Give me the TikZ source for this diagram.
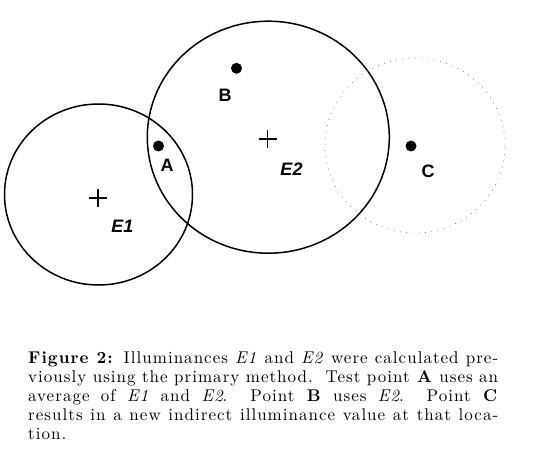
\documentclass[tikz,border=0pt]{standalone}
\usepackage{fontspec}
\newfontfamily\labelfont{Liberation Sans}
\newfontfamily\captionfont{lmroman10}[Extension=.otf, UprightFont=*-regular,
  BoldFont=*-bold, ItalicFont=*-italic, LetterSpace=6]
\usetikzlibrary{positioning}

\begin{document}
\begin{tikzpicture}[
  x=1pt, y=-1pt,
  region/.style={line width=1.5pt},
  newregion/.style={line width=0.8pt, black!50, dash pattern=on 0.8pt off 5.5pt},
  marker/.style={line width=1.1pt},
  testpt/.style={circle, fill=black, inner sep=0pt, minimum size=11pt},
  ptlabel/.style={font=\labelfont\fontsize{18}{20}\selectfont\bfseries},
  srclabel/.style={font=\labelfont\fontsize{18}{20}\selectfont\bfseries\itshape},
  caption/.style={text width=470pt, align=justify, inner sep=0pt,
    font=\captionfont\fontsize{17}{19}\selectfont}
]
\useasboundingbox (0,0) rectangle (535,457);

% Illuminance regions
\coordinate (r1) at (98.5,194.5);
\coordinate (r2) at (268.3,137.2);
\coordinate (r3) at (415,145.5);
\draw[region] (r1) ellipse (94pt and 90.5pt);
\draw[region] (r2) ellipse (121pt and 116pt);
\draw[newregion] (r3) ellipse (90pt and 87.5pt);

% Sample positions
\coordinate (e1) at (98,198);
\coordinate (e2) at (267.7,139);
\draw[marker] (e1) ++(-9,0) -- ++(18,0) (e1) ++(0,-9) -- ++(0,18);
\draw[marker] (e2) ++(-9,0) -- ++(18,0) (e2) ++(0,-9) -- ++(0,18);
\node[srclabel] (e1_lbl) at (122.5,226) {E1};
\node[srclabel] (e2_lbl) at (291.5,169) {E2};

% Test points
\node[testpt] (pt_a) at (158.5,146) {};
\node[testpt] (pt_b) at (236.5,68.3) {};
\node[testpt] (pt_c) at (411,146) {};
\node[ptlabel] (a_lbl) at (167,165) {A};
\node[ptlabel] (b_lbl) at (225,95) {B};
\node[ptlabel] (c_lbl) at (428,171) {C};

% Caption
\node[caption, anchor=north west] (cap) at (28,351) {\textbf{Figure 2:} Illuminances \textit{E1}\/ and \textit{E2}\/ were calculated pre-\linebreak viously using the primary method.\ \ Test point \textbf{A} uses an\linebreak average of \textit{E1}\/ and \textit{E2}. Point \textbf{B} uses \textit{E2}.\ \ Point \textbf{C}\linebreak results in a new indirect illuminance value at that loca-\linebreak tion.};

\end{tikzpicture}
\end{document}
